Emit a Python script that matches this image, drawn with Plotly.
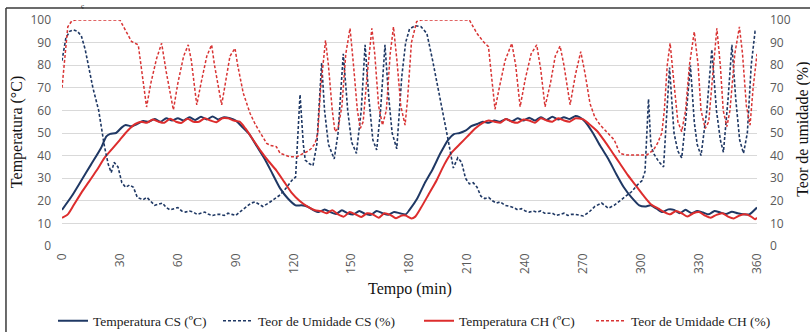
import plotly.graph_objects as go

# ---------------- data ----------------
t_temp_cs = [0, 5, 10, 15, 20, 23, 25, 28, 31, 33, 36, 39, 42, 45, 48, 51, 54, 57, 60, 63, 66, 69, 72, 75, 78, 81, 84, 87,
             90, 93, 97, 101, 105, 109, 113, 117, 121, 124, 127, 130, 133, 136, 139, 142, 145, 148, 151, 154, 157, 160,
             163, 166, 169, 172, 175, 178, 180, 184, 188, 192, 196, 200, 203, 206, 209, 212, 215, 218, 221, 224, 227,
             230, 233, 236, 239, 242, 245, 248, 251, 254, 257, 260, 263, 266, 268, 271, 275, 279, 283, 287, 291, 295,
             299, 302, 305, 308, 311, 314, 317, 320, 323, 326, 329, 332, 335, 338, 341, 344, 347, 350, 353, 356, 360]
temp_cs = [16, 22, 29, 36, 43, 48.5, 49.6, 50, 52.5, 53.5, 53, 54, 55.3, 55, 56.2, 55, 56.5, 55.5, 56.5, 55.5, 57, 55.8,
           57.2, 56, 57.3, 56, 57, 56.5, 55.5, 53, 49.5, 44, 38.5, 32, 25.5, 21, 18, 18, 17.5, 16, 15, 16.2, 15, 14.2,
           15.8, 14.5, 14, 15.5, 14.2, 13.8, 15.5, 14.5, 13.8, 15, 14.5, 14, 16, 21, 28, 34, 41, 47, 49.5, 50, 51, 53,
           54, 55, 54.5, 55.5, 55, 56.2, 55.2, 56.5, 55.5, 56.8, 55.5, 57, 55.8, 57.2, 56, 57, 56.2, 57.5, 57, 55, 50,
           44, 38.5, 32, 26, 21.5, 18, 17.5, 18, 16.5, 15, 16.2, 16, 14.5, 16, 14.5, 15.5, 14.8, 14, 15.5, 14.8, 14.2,
           15.2, 14.5, 14, 14, 17]

t_temp_ch = [0, 3, 6, 10, 14, 18, 22, 26, 30, 34, 38, 41, 44, 47, 50, 53, 56, 59, 62, 65, 68, 71, 74, 77, 80, 83, 86, 89,
             92, 95, 99, 103, 107, 111, 115, 119, 123, 127, 131, 134, 137, 140, 143, 146, 149, 152, 155, 158, 161, 164,
             167, 170, 173, 176, 178, 181, 183, 186, 190, 194, 198, 202, 206, 210, 214, 218, 221, 224, 227, 230, 233,
             236, 239, 242, 245, 248, 251, 254, 257, 260, 263, 266, 270, 273, 277, 281, 285, 289, 293, 297, 301, 305,
             309, 312, 315, 318, 321, 324, 327, 330, 333, 336, 339, 342, 345, 348, 351, 354, 357, 359, 360]
temp_ch = [12.5, 14, 18, 23.5, 28.5, 33.5, 39, 43, 47, 51, 54, 55, 54.5, 56, 55, 54.5, 56.3, 55, 54.5, 56.3, 55, 55,
           56.5, 55.5, 54.8, 56.5, 56.5, 55.5, 55, 52, 47, 42, 37.5, 33.5, 28.5, 23.5, 20, 17.5, 15.8, 15.5, 14.5, 15.8,
           14, 13, 15, 14, 12.8, 14.5, 14, 12.5, 14.5, 13.8, 12.3, 13.5, 13.5, 12.2, 13, 17, 23, 29, 36, 41.5, 45, 48.5,
           52, 54.5, 55.5, 55, 54.5, 56.2, 55, 54.5, 56, 55.5, 54.5, 56.5, 55.5, 55, 56.5, 55.5, 55, 56.5, 56, 54, 51,
           46.5, 41.5, 36.5, 31.5, 27, 22.5, 18.5, 16.5, 15, 14, 15.5, 14.5, 13, 14.5, 15, 13.5, 12.5, 13.8, 14.5, 13,
           12.2, 13.5, 14, 13, 11.8, 12.5]

t_um_cs = [0, 2, 4, 6, 8, 10, 12, 14, 16, 19, 22, 24, 25.5, 27, 29, 31, 33, 35, 37, 39, 42, 44, 46, 48, 50, 52, 54, 56,
           58, 60, 62, 64, 66, 68, 70, 72, 74, 76, 78, 80, 82, 84, 86, 88, 90, 92, 95, 98, 100, 102, 104, 107, 110,
           113, 116, 119, 121, 123.3, 125, 126, 128, 130, 132, 134.5, 136, 138, 141, 143, 145.7, 148, 150, 152.5, 155,
           157, 159, 161, 163, 165, 167.3, 169, 171, 173.4, 176, 178, 180, 183, 186, 189, 192, 195, 198, 200, 202.7,
           205, 207, 209, 211, 213, 215, 217, 219, 221, 223, 225, 227, 229.5, 232, 234, 236, 238, 240, 242, 244, 246,
           248, 250, 252, 254, 256, 258, 260, 262, 264, 266, 268, 270, 273, 276, 279.5, 281, 283, 286, 289, 292.5,
           295, 298, 300.5, 302, 303.8, 305, 306.4, 309, 311.6, 313, 314.7, 317, 319, 321, 323, 325.5, 327.5, 329,
           331, 334, 336.6, 339, 341, 342.6, 345, 347, 349, 351, 353, 355, 357, 359, 360]
um_cs = [82, 92, 95, 95.6, 95, 93, 87, 79, 70, 60, 44, 36, 32.5, 37, 35, 28, 26, 27, 26, 21.5, 20.5, 21.5, 19.5, 18, 18.5,
         19, 17, 16, 16.5, 17, 15.5, 15, 15.5, 15, 14, 14.5, 15, 14, 13.5, 14, 14, 13.5, 14.5, 14, 13.5, 15, 17, 19,
         19.5, 18.5, 17.5, 19, 21, 22.6, 25.5, 29, 30.5, 67, 45, 38, 36.5, 35.5, 45, 81, 60, 45, 38.5, 50, 85, 60, 46,
         41, 60, 89, 65, 47, 42.5, 60, 89, 68, 50, 43, 75, 90, 96, 97.5, 97, 94, 82, 69, 57, 47, 34.5, 39, 37, 30,
         27.5, 28, 26, 22, 21, 21.5, 20, 19, 19.5, 18, 17.5, 17, 16, 16.5, 15.5, 15, 15.5, 15, 15.5, 14.5, 14.5, 14.5,
         13.5, 14, 14.5, 13.5, 14, 14, 13.5, 13.3, 15, 17.5, 19, 18, 16.7, 18, 20, 22, 24, 27, 29, 33, 65, 45, 41,
         37.5, 35, 55, 79, 50, 42, 39, 55, 80, 55, 45, 40, 60, 87, 60, 47, 41.5, 65, 89, 65, 47, 41, 50, 80, 95, 95]

t_um_ch = [0, 1.5, 3, 5, 7, 30, 32, 34, 36, 39.5, 41, 43.8, 46, 49, 51.6, 54, 57.7, 60, 63, 65.4, 67, 69.8, 72, 75, 77.5,
           79, 82.7, 85, 87, 89.6, 91, 93.9, 97.4, 100, 102.6, 106, 108, 111, 113, 116, 118, 121.6, 124, 126.8, 129,
           131.1, 132.5, 134, 136.5, 138, 140, 141.4, 143, 145, 147, 149.2, 151, 153, 154.5, 156, 158, 160.5, 162,
           164, 166, 168, 170, 171.7, 173.5, 175.5, 177.7, 179, 181, 183.7, 186, 211, 213, 215, 218.3, 220.9, 222.5,
           224.3, 226.5, 229.5, 233, 235, 237.3, 240, 243, 245.9, 248, 250.2, 253, 255.5, 258, 260, 263.2, 266,
           268.7, 271, 273.5, 276, 278.8, 281, 284, 286, 289, 292, 296, 300, 303, 306.4, 308.5, 310.7, 312, 313.5,
           315, 317, 319, 321, 323, 325, 327.5, 329.5, 331, 333.2, 335, 337, 339.2, 341, 342.5, 344.4, 346, 348.5,
           350.9, 352.5, 354.5, 356.4, 358, 360]
um_ch = [70, 85, 97, 99.5, 100, 100, 97, 94, 90.5, 89, 80, 61.5, 72, 83, 89.7, 77, 60.2, 72, 84, 89, 82, 62.4, 72, 84,
         89, 80, 62.4, 74, 84, 87.5, 80, 67.6, 58.7, 54, 50, 45.4, 44.5, 44, 41, 40, 39.5, 39.5, 40.5, 41.7, 43, 45.4,
         50, 70, 91, 80, 60, 50.6, 52, 62, 85, 96.3, 80, 60, 52, 55, 75, 96.3, 85, 62, 53.5, 60, 85, 97, 82, 62, 53.5,
         65, 90, 99.3, 100, 100, 97, 94, 90.4, 88.2, 75, 60.5, 70, 82, 89.7, 80, 61.6, 74, 85, 89, 78, 61.6, 72, 84,
         88.5, 80, 62.5, 76, 86, 76, 63, 57, 53.5, 51.5, 49, 47, 41, 40.3, 40.3, 40.3, 40.3, 42.5, 45.5, 50, 60, 80,
         89.7, 72, 55, 50.6, 60, 80, 94.8, 80, 60, 52, 55, 75, 96.3, 80, 60, 52.8, 60, 85, 97, 85, 62, 53.5, 70, 85]

x_ticks = list(range(0, 361, 30))
y_ticks = list(range(0, 101, 10))

NAVY = "#1f3864"
RED = "#dd2d2d"
SERIF = "Liberation Serif"
SANS = "Open Sans"

fig = go.Figure()
fig.add_trace(go.Scatter(x=t_temp_cs, y=temp_cs, name="Temperatura CS (ºC)", mode="lines", legend="legend",
                         line=dict(color=NAVY, width=2, shape="spline", smoothing=0.6)))
fig.add_trace(go.Scatter(x=t_um_cs, y=um_cs, name="Teor de Umidade CS (%)", mode="lines", yaxis="y2", legend="legend2",
                         line=dict(color=NAVY, width=1.6, dash="3px,2px")))
fig.add_trace(go.Scatter(x=t_temp_ch, y=temp_ch, name="Temperatura CH (ºC)", mode="lines", legend="legend3",
                         line=dict(color=RED, width=2, shape="spline", smoothing=0.6)))
fig.add_trace(go.Scatter(x=t_um_ch, y=um_ch, name="Teor de Umidade CH (%)", mode="lines", yaxis="y2", legend="legend4",
                         line=dict(color="#d83434", width=1.5, dash="3px,2px")))

tickfont = dict(family=SANS, size=12, color="#595959")
legfont = dict(family=SERIF, size=13.5, color="#222222")
def leg(xp):
    return dict(orientation="h", x=(xp - 62) / 695, xanchor="left", y=(246 - 321) / 226, yanchor="middle",
                font=legfont, bgcolor="rgba(0,0,0,0)", borderwidth=0)

fig.update_layout(
    width=810, height=332,
    margin=dict(l=62, r=53, t=20, b=86, autoexpand=False),
    paper_bgcolor="white", plot_bgcolor="white",
    showlegend=True,
    legend=leg(53), legend2=leg(218), legend3=leg(419), legend4=leg(591),
    xaxis=dict(range=[0, 360], tickvals=x_ticks, ticktext=[str(v) for v in x_ticks], tickangle=-90,
               showgrid=False, zeroline=False, showline=False, ticks="", tickfont=tickfont,
               ticklabelstandoff=4),
    yaxis=dict(range=[0, 100], tickvals=y_ticks, showgrid=True, gridcolor="#d9d9d9", gridwidth=1,
               zeroline=False, showline=False, ticks="", tickfont=tickfont, ticklabelstandoff=10),
    yaxis2=dict(range=[0, 100], tickvals=y_ticks, overlaying="y", side="right", showgrid=False,
                zeroline=False, showline=False, ticks="", tickfont=tickfont, ticklabelstandoff=12),
    annotations=[
        dict(text="Tempo (min)", xref="paper", yref="paper", x=0.5, y=(246 - 289) / 226, xanchor="center",
             yanchor="middle", showarrow=False, font=dict(family=SERIF, size=16, color="#111111")),
        dict(text="Temperatura (°C)", xref="paper", yref="paper", x=-0.0647, y=0.504, textangle=-90,
             xanchor="center", yanchor="middle", showarrow=False, font=dict(family=SERIF, size=16, color="#111111")),
        dict(text="Teor de umidade (%)", xref="paper", yref="paper", x=1.066, y=0.518, textangle=-90,
             xanchor="center", yanchor="middle", showarrow=False, font=dict(family=SERIF, size=16, color="#111111")),
        dict(text="ç", xref="paper", yref="paper", x=(82 - 62) / 695, y=(246 - 0) / 226, xanchor="center",
             yanchor="top", showarrow=False, font=dict(family=SERIF, size=7, color="#111111")),
    ],
    shapes=[
        dict(type="line", xref="paper", yref="paper", x0=-0.0806, x1=1.2, y0=1.0531, y1=1.0531,
             line=dict(color="#3a3a3a", width=1.5)),
        dict(type="line", xref="paper", yref="paper", x0=-0.0806, x1=-0.0806, y0=1.0531, y1=-0.5,
             line=dict(color="#3a3a3a", width=1.5)),
    ],
)

fig.write_html("out.html")
